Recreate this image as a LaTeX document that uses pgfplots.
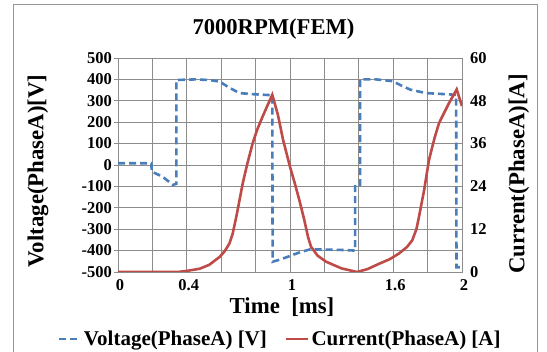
\documentclass[border=0pt]{standalone}
\usepackage{pgfplots}
\pgfplotsset{compat=1.18}
\usepackage{fontspec}
\setmainfont{Liberation Serif}
\definecolor{vblue}{RGB}{74,126,187}
\definecolor{cred}{RGB}{190,75,72}
\definecolor{gridgray}{RGB}{140,140,140}
\definecolor{framegray}{RGB}{150,150,150}
\begin{document}
\begin{tikzpicture}
\useasboundingbox (0pt,0pt) rectangle (547pt,352pt);
\begin{scope}
\clip (0pt,0pt) rectangle (547pt,352pt);
\draw[framegray,line width=1pt] (13pt,347pt) rectangle (537pt,-20pt);
\end{scope}
\node[font=\fontsize{22.6}{26}\selectfont\bfseries] at (273.5pt,323pt) {7000RPM(FEM)};
\node[font=\fontsize{22.8}{26}\selectfont\bfseries,rotate=90] at (38pt,181pt) {Voltage(PhaseA)[V]};
\node[font=\fontsize{22.8}{26}\selectfont\bfseries,rotate=90] at (519pt,178pt) {Current(PhaseA)[A]};
\node[font=\fontsize{22.8}{26}\selectfont\bfseries] at (282pt,45pt) {Time\ \ [ms]};
\begin{axis}[
  at={(118pt,80pt)}, anchor=south west,
  width=344pt, height=214pt, scale only axis,
  xmin=0, xmax=2, ymin=-500, ymax=500,
  xtick={0,0.4,1,1.6,2},
  xticklabels={0,0.4,1,1.6,2},
  minor xtick={0.2,0.6,0.8,1.2,1.4,1.8},
  ytick={-500,-400,-300,-200,-100,0,100,200,300,400,500},
  yticklabels={-500,-400,-300,-200,-100,0,100,200,300,400,500},
  grid=both,
  major grid style={gridgray,line width=0.9pt},
  minor grid style={gridgray,line width=0.9pt},
  axis line style={gridgray,line width=0.9pt},
  xtick style={draw=none},
  minor x tick style={draw=none},
  ytick style={gridgray,line width=0.8pt},
  major tick length=4pt,
  tick align=outside,
  ytick pos=left,
  tick label style={font=\fontsize{16.5}{18}\selectfont\bfseries},
  xticklabel style={yshift=-1pt, xshift=2pt, inner sep=2pt},
  yticklabel style={inner sep=2pt, xshift=0pt},
  legend columns=2,
  legend style={at={(0.471,-0.313)}, anchor=center, draw=none, fill=none,
    font=\fontsize{21}{24}\selectfont\bfseries,
    /tikz/every even column/.append style={column sep=16pt}},
  legend image code/.code={\draw[#1] (0pt,0pt) -- (22pt,0pt);},
]
\addplot[vblue, line width=2.6pt, dash pattern=on 7pt off 4pt] coordinates {
(0,8) (0.1,8) (0.194,8) (0.196,-31) (0.26,-55) (0.319,-93) (0.339,-88)
(0.339,397) (0.45,400) (0.53,397) (0.59,390) (0.65,360) (0.706,336)
(0.8,330) (0.897,326) (0.899,-452) (0.95,-440) (1.0,-425) (1.05,-410)
(1.113,-395) (1.2,-395) (1.3,-397) (1.379,-400) (1.379,-100) (1.408,-100)
(1.408,400) (1.5,400) (1.595,392) (1.65,370) (1.7,352) (1.79,336)
(1.9,331) (1.966,328) (1.968,-478) (2.0,-478)
};
\addlegendentry{Voltage(PhaseA) [V]}
\addlegendimage{cred, line width=2.6pt}
\addlegendentry{Current(PhaseA) [A]}
\end{axis}
\begin{axis}[
  at={(118pt,80pt)}, anchor=south west,
  width=344pt, height=214pt, scale only axis,
  xmin=0, xmax=2, ymin=0, ymax=60,
  axis x line=none,
  axis y line*=right,
  ytick={0,12,24,36,48,60},
  yticklabels={0,12,24,36,48,60},
  axis line style={gridgray,line width=0.9pt},
  ytick style={draw=none},
  tick label style={font=\fontsize{16.5}{18}\selectfont\bfseries},
  yticklabel style={inner sep=2pt, xshift=6pt},
]
\addplot[cred, line width=2.6pt] coordinates {
(0,0) (0.1,0) (0.2,0) (0.3,0) (0.348,0) (0.4,0.3) (0.474,0.9) (0.53,2)
(0.59,4.2) (0.62,5.8) (0.648,8.0) (0.667,10.8) (0.69,16) (0.725,24.8)
(0.75,30) (0.783,36.1) (0.81,40) (0.841,43.6) (0.87,46.8) (0.897,49.7)
(0.93,44) (0.96,37) (1.0,29.5) (1.03,24.5) (1.054,20.2) (1.083,14.6)
(1.105,9.8) (1.122,7.1) (1.16,4.6) (1.209,2.9) (1.3,1.0) (1.39,0)
(1.45,0.8) (1.518,2.3) (1.58,3.6) (1.634,5.2) (1.68,7) (1.711,8.9)
(1.735,12) (1.75,15.5) (1.78,23) (1.808,31.4) (1.84,37.5) (1.866,41.7)
(1.9,45) (1.924,47.3) (1.969,51.2) (2.0,46.5)
};
\end{axis}
\end{tikzpicture}
\end{document}
